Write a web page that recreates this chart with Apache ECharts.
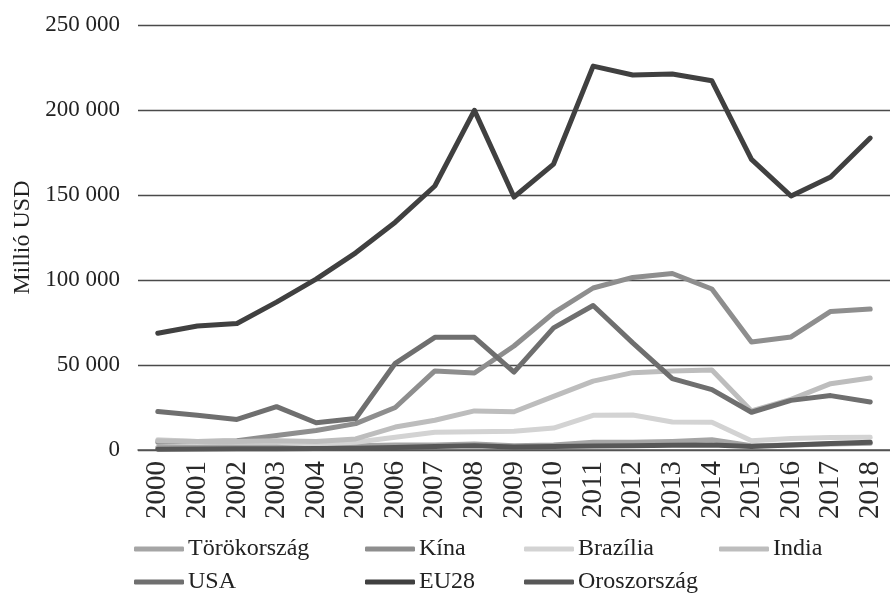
<!DOCTYPE html>
<html>
<head>
<meta charset="utf-8">
<script src="https://cdn.jsdelivr.net/npm/echarts@6/dist/echarts.min.js"></script>
<style>
    html, body { margin: 0; padding: 0; background: #fff; }
    #chart { width: 890px; height: 594px; }
</style>
</head>
<body>
<div id="chart"></div>
<script>
// years on the category axis
var years = ['2000', '2001', '2002', '2003', '2004', '2005', '2006', '2007', '2008', '2009',
    '2010', '2011', '2012', '2013', '2014', '2015', '2016', '2017', '2018'];

// values in millió USD
var torokorszag = [1500, 1800, 2000, 2500, 2500, 2500, 3000, 3000, 3500, 2500, 3000, 4500, 4500, 5000, 6000, 2500, 3000, 3500, 4000];
var kina = [4500, 5000, 5500, 8500, 11500, 15500, 25000, 46500, 45300, 61200, 80600, 95300, 101500, 103800, 94700, 63500, 66500, 81500, 82900];
var brazilia = [6000, 5000, 4500, 4500, 3500, 4500, 7500, 10500, 10800, 11000, 12900, 20400, 20600, 16500, 16300, 5500, 6800, 7300, 7500];
var india = [5500, 5000, 5000, 5500, 5000, 6500, 13500, 17500, 23000, 22500, 31500, 40500, 45500, 46500, 47000, 23000, 29800, 39000, 42300];
var usa = [22600, 20500, 18000, 25500, 16000, 18500, 51000, 66300, 66300, 45800, 71800, 85000, 63000, 42000, 35500, 22200, 29200, 32000, 28200];
var eu28 = [68700, 72900, 74400, 87000, 100500, 116000, 134000, 155300, 199800, 148800, 168200, 225800, 220600, 221200, 217200, 171000, 149400, 160600, 183500];
var oroszorszag = [500, 600, 700, 800, 900, 1000, 1500, 2000, 2500, 1800, 2000, 2300, 2500, 2800, 3000, 2000, 3000, 3800, 4500];

// y axis ticks
var yMin = 0, yMax = 250000, yStep = 50000;

var font = '"Liberation Serif", "DejaVu Serif", serif';

var chart = echarts.init(document.getElementById('chart'));

function line(name, data, color) {
    return {
        name: name,
        type: 'line',
        data: data,
        symbol: 'none',
        color: color,
        lineStyle: { width: 5, color: color, cap: 'round', join: 'round' },
        emphasis: { disabled: true },
        animation: false
    };
}

// one legend per entry, laid out as the 4 + 3 grid of the original
function legend(name, left, top) {
    return {
        data: [name],
        left: left,
        top: top,
        padding: 0,
        itemWidth: 50,
        itemHeight: 5,
        icon: 'roundRect',
        textStyle: { fontFamily: font, fontSize: 24, color: '#222', padding: [0, 0, 0, -1] }
    };
}

chart.setOption({
    backgroundColor: '#fff',
    grid: { left: 138, right: 0, top: 25, bottom: 144, containLabel: false },
    legend: [
        legend('Törökország', 134, 537),
        legend('Kína', 365, 537),
        legend('Brazília', 524, 537),
        legend('India', 719, 537),
        legend('USA', 134, 570),
        legend('EU28', 365, 570),
        legend('Oroszország', 524, 570)
    ],
    xAxis: {
        type: 'category',
        data: years,
        boundaryGap: true,
        axisLine: { lineStyle: { color: '#555', width: 1.5 } },
        axisTick: { show: false },
        axisLabel: { rotate: 90, margin: 11, fontFamily: font, fontSize: 29, color: '#2a2a2a', interval: 0 }
    },
    yAxis: {
        type: 'value',
        min: yMin,
        max: yMax,
        interval: yStep,
        name: 'Millió USD',
        nameLocation: 'middle',
        nameGap: 101,
        nameTextStyle: { fontFamily: font, fontSize: 24, color: '#222' },
        axisLine: { show: false },
        axisTick: { show: false },
        splitLine: { lineStyle: { color: '#4a4a4a', width: 1.3 } },
        axisLabel: {
            margin: 18,
            fontFamily: font,
            fontSize: 23,
            color: '#222',
            formatter: function (v) {
                return String(v).replace(/\B(?=(\d{3})+(?!\d))/g, ' ');
            }
        }
    },
    series: [
        line('Törökország', torokorszag, '#a5a5a5'),
        line('Kína', kina, '#8e8e8e'),
        line('Brazília', brazilia, '#d3d3d3'),
        line('India', india, '#bdbdbd'),
        line('USA', usa, '#6f6f6f'),
        line('EU28', eu28, '#404040'),
        line('Oroszország', oroszorszag, '#575757')
    ]
});
</script>
</body>
</html>
